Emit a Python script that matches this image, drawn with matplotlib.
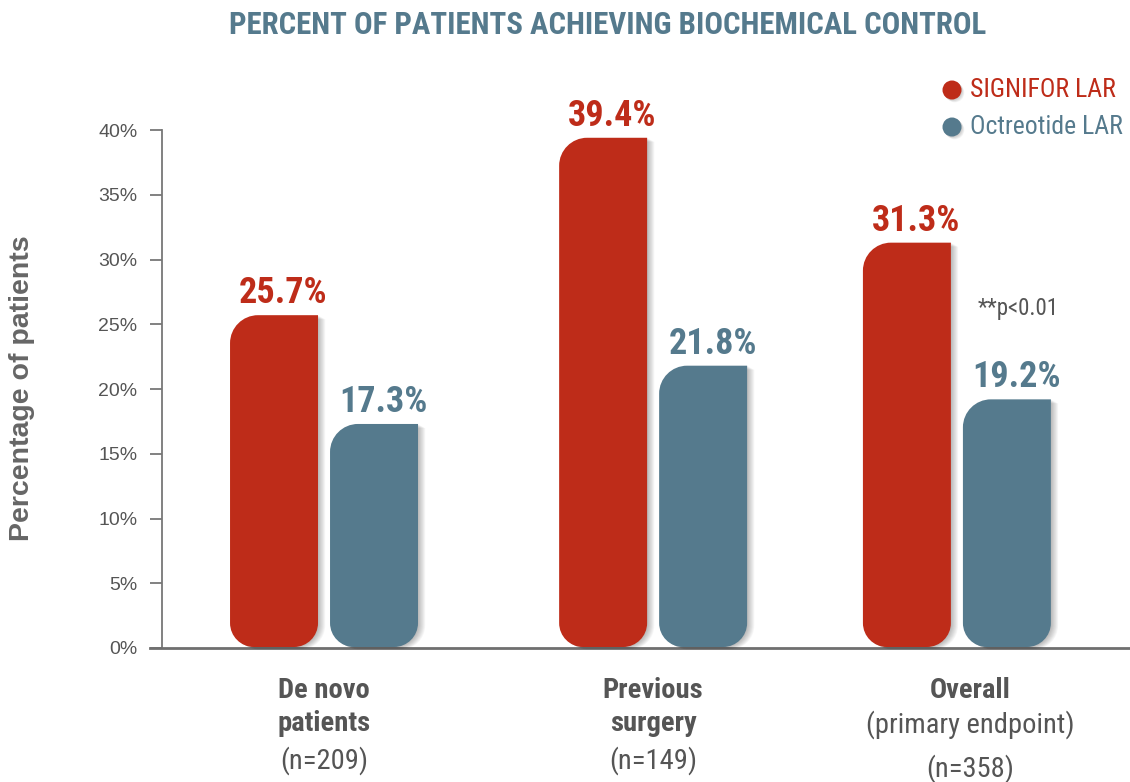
import matplotlib
matplotlib.use("Agg")
import matplotlib.pyplot as plt
from matplotlib import font_manager
from matplotlib.path import Path
from matplotlib.patches import PathPatch, Circle
from matplotlib.transforms import IdentityTransform

# ---------------- data ----------------
categories_lines = [["De novo", "patients", "(n=209)"],
                    ["Previous", "surgery", "(n=149)"],
                    ["Overall", "(primary endpoint)", "(n=358)"]]
categories_bold_lines = [2, 2, 1]
series_names = ["SIGNIFOR LAR", "Octreotide LAR"]
signifor = [25.7, 39.4, 31.3]
octreotide = [17.3, 21.8, 19.2]
yticks = [0, 5, 10, 15, 20, 25, 30, 35, 40]
ytick_labels = ["0%", "5%", "10%", "15%", "20%", "25%", "30%", "35%", "40%"]
title = "PERCENT OF PATIENTS ACHIEVING BIOCHEMICAL CONTROL"
ylabel = "Percentage of patients"
note = "**p<0.01"

# ---------------- style ----------------
RED = "#BE2C19"
BLUE = "#557A8D"
GRAY = "#555555"
group_pos = [0.0, 1.04, 2.0]
bar_w = 0.278
offset = 0.158
# vertical offsets (points below baseline) of the category label lines
line_offsets = [[30.5, 54.5, 81.0], [30.5, 54.5, 81.0], [30.5, 55.5, 86.5]]
label_dx = [0.0, 0.0, 9.5]   # horizontal nudge of category labels, points

avail = {f.name for f in font_manager.fontManager.ttflist}
cond = "Liberation Sans"
for cand in ["Roboto Condensed", "Liberation Sans Narrow", "Open Sans Condensed", "Noto Sans Condensed"]:
    if cand in avail:
        cond = cand
        break
plain = "Liberation Sans" if "Liberation Sans" in avail else "DejaVu Sans"

W, H, DPI = 1130, 782, 100
fig = plt.figure(figsize=(W / DPI, H / DPI), dpi=DPI)
ax = fig.add_axes([162 / W, 134 / H, (W - 162) / W, (648 - 130) / H])
ax.set_xlim(-0.512, 2.547)
ax.set_ylim(0, 40)

for s in ["top", "right"]:
    ax.spines[s].set_visible(False)
ax.spines["left"].set_color("#777777")
ax.spines["left"].set_linewidth(1.3)
ax.spines["bottom"].set_visible(False)
ax.axhline(0, xmin=-12 / 968, xmax=1, color="#6f6f6f", lw=2.0, clip_on=False, zorder=5)

ax.set_yticks(yticks)
ax.set_yticklabels(ytick_labels, fontfamily=plain, fontsize=14, color=GRAY)
ax.tick_params(axis="y", length=8.6, width=1.3, color="#777777", pad=9)
ax.set_xticks([])

xs_red = [p - offset for p in group_pos]
xs_blue = [p + offset for p in group_pos]
bars_r = ax.bar(xs_red, signifor, width=bar_w, color="none", edgecolor="none")
bars_b = ax.bar(xs_blue, octreotide, width=bar_w, color="none", edgecolor="none")


def rounded_path(x0, y0, x1, y1, r_tl, r_bl, r_br):
    k = 0.5523
    verts = [(x0, y0 + r_bl), (x0, y1 - r_tl),
             (x0, y1 - r_tl + k * r_tl), (x0 + r_tl - k * r_tl, y1), (x0 + r_tl, y1),
             (x1, y1), (x1, y0 + r_br),
             (x1, y0 + r_br - k * r_br), (x1 - r_br + k * r_br, y0), (x1 - r_br, y0),
             (x0 + r_bl, y0),
             (x0 + r_bl - k * r_bl, y0), (x0, y0 + r_bl - k * r_bl), (x0, y0 + r_bl),
             (x0, y0 + r_bl)]
    codes = [Path.MOVETO, Path.LINETO,
             Path.CURVE4, Path.CURVE4, Path.CURVE4,
             Path.LINETO, Path.LINETO,
             Path.CURVE4, Path.CURVE4, Path.CURVE4,
             Path.LINETO,
             Path.CURVE4, Path.CURVE4, Path.CURVE4,
             Path.CLOSEPOLY]
    return Path(verts, codes)


def draw_bar(rect, color):
    (x0, y0), (x1, y1) = ax.transData.transform(
        [(rect.get_x(), rect.get_y()), (rect.get_x() + rect.get_width(), rect.get_y() + rect.get_height())])
    y0 += 1
    for i in range(1, 9):
        sp = rounded_path(x0 + i * 0.6, y0 - i * 0.3, x1 + i * 0.9, y1 - i * 0.5, 28, 24, 24)
        fig.patches.append(PathPatch(sp, facecolor="black", edgecolor="none", alpha=0.035,
                                     transform=IdentityTransform(), figure=fig, zorder=1))
    p = rounded_path(x0, y0, x1, y1, 28, 24, 24)
    fig.patches.append(PathPatch(p, facecolor=color, edgecolor="none",
                                 transform=IdentityTransform(), figure=fig, zorder=2))


for rect in bars_r:
    draw_bar(rect, RED)
for rect in bars_b:
    draw_bar(rect, BLUE)

# value labels
for xs, vals, col in [(xs_red, signifor, RED), (xs_blue, octreotide, BLUE)]:
    for x, v in zip(xs, vals):
        ax.annotate(f"{v}%", (x + 0.03, v), xytext=(0, 8.6), textcoords="offset points",
                    ha="center", va="baseline", fontsize=26, fontweight="bold", color=col,
                    fontfamily=cond, annotation_clip=False)

# category labels
for i, p in enumerate(group_pos):
    for j, line in enumerate(categories_lines[i]):
        ax.annotate(line, (p, 0), xytext=(label_dx[i], -line_offsets[i][j]),
                    textcoords="offset points",
                    ha="center", va="center", fontsize=20.5,
                    fontweight="bold" if j < categories_bold_lines[i] else "normal",
                    color=GRAY, fontfamily=cond, annotation_clip=False)

fig.text(1018 / W, 1 - 308 / H, note, ha="center", va="center", fontsize=16.5,
         color=GRAY, fontfamily=cond)

# title, y label
fig.text(608 / W, 1 - 25 / H, title, ha="center", va="center", fontsize=22.2,
         fontweight="bold", color=BLUE, fontfamily=cond)
fig.text(22 / W, 1 - 388 / H, ylabel, ha="center", va="center", rotation=90, fontsize=20.5,
         fontweight="bold", color="#666666", fontfamily=plain)

# legend
for yy, name, col in [(90, series_names[0], RED), (127, series_names[1], BLUE)]:
    for i in range(1, 5):
        fig.patches.append(Circle((952 + i * 0.7, H - yy - i * 0.7), 9.5, facecolor="black",
                                  alpha=0.05, edgecolor="none", transform=IdentityTransform(),
                                  figure=fig))
    fig.patches.append(Circle((952, H - yy), 9.5, facecolor=col, edgecolor="none",
                              transform=IdentityTransform(), figure=fig))
    fig.text(970 / W, 1 - yy / H, name, ha="left", va="center", fontsize=18.5,
             color=col, fontfamily=cond)

fig.savefig("out.png", dpi=DPI)
